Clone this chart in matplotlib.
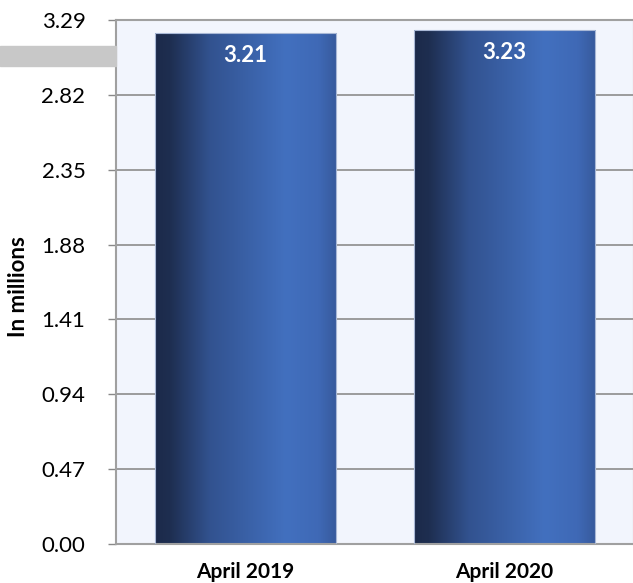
import numpy as np
import matplotlib.pyplot as plt
from matplotlib.colors import LinearSegmentedColormap
from matplotlib.patches import Rectangle

categories = ['April 2019', 'April 2020']
values = [3.21, 3.23]
yticks = [0.00, 0.47, 0.94, 1.41, 1.88, 2.35, 2.82, 3.29]

plt.rcParams['font.family'] = ['Lato', 'DejaVu Sans']

fig = plt.figure(figsize=(6.33, 5.83), dpi=100)
# plot area runs to the right edge, as in the reference
ax = fig.add_axes([116 / 633, 1 - 544 / 583, 518 / 633, 524 / 583])
ax.set_facecolor('#f2f5fd')

# grey strip on the left (screenshot overlay)
fig.patches.append(Rectangle((0, 1 - 66 / 583), 116 / 633, 20 / 583,
                             transform=fig.transFigure, color='#c8c8c8', zorder=0))

cmap = LinearSegmentedColormap.from_list('bar', [
    (0.0, '#1c2a4a'), (0.08, '#1e2e50'), (0.3, '#32528f'),
    (0.72, '#4270bf'), (0.9, '#3f69b6'), (1.0, '#375a9c')])
grad = np.linspace(0, 1, 256).reshape(1, -1)

width = 0.7
bars = ax.bar(range(len(values)), values, width=width, color='none',
              edgecolor='#a9b8d6', linewidth=0.8, zorder=3)
for b, v in zip(bars, values):
    x0 = b.get_x()
    im = ax.imshow(grad, cmap=cmap, aspect='auto', extent=(x0, x0 + width, 0, v), zorder=2)
    im.set_clip_path(b)
    ax.text(b.get_x() + width / 2, v - 0.145, f'{v:.2f}', ha='center', va='center',
            color='white', fontsize=16, fontweight='bold', zorder=4)

ax.set_xlim(-0.5, 1.5)
ax.set_ylim(0, 3.29)
ax.set_yticks(yticks)
ax.set_yticklabels([f'{t:.2f}' for t in yticks], fontsize=16)
ax.set_xticks(range(len(categories)))
ax.set_xticklabels(categories, fontsize=15, fontweight='bold')
ax.tick_params(axis='x', length=0, pad=13)
ax.tick_params(axis='y', length=6, width=1, color='#888888', pad=16)
ax.yaxis.grid(True, color='#8c8c8c', linewidth=1.2, zorder=1)
ax.set_axisbelow(True)
for s in ax.spines.values():
    s.set_color('#a0a0a0')
    s.set_linewidth(1.5)

# y axis title, placed where the reference has it
fig.text(19 / 633, 1 - 287 / 583, 'In millions', rotation=90, ha='center', va='center',
         fontsize=16, fontweight='bold')

fig.savefig('out.png', dpi=100)
